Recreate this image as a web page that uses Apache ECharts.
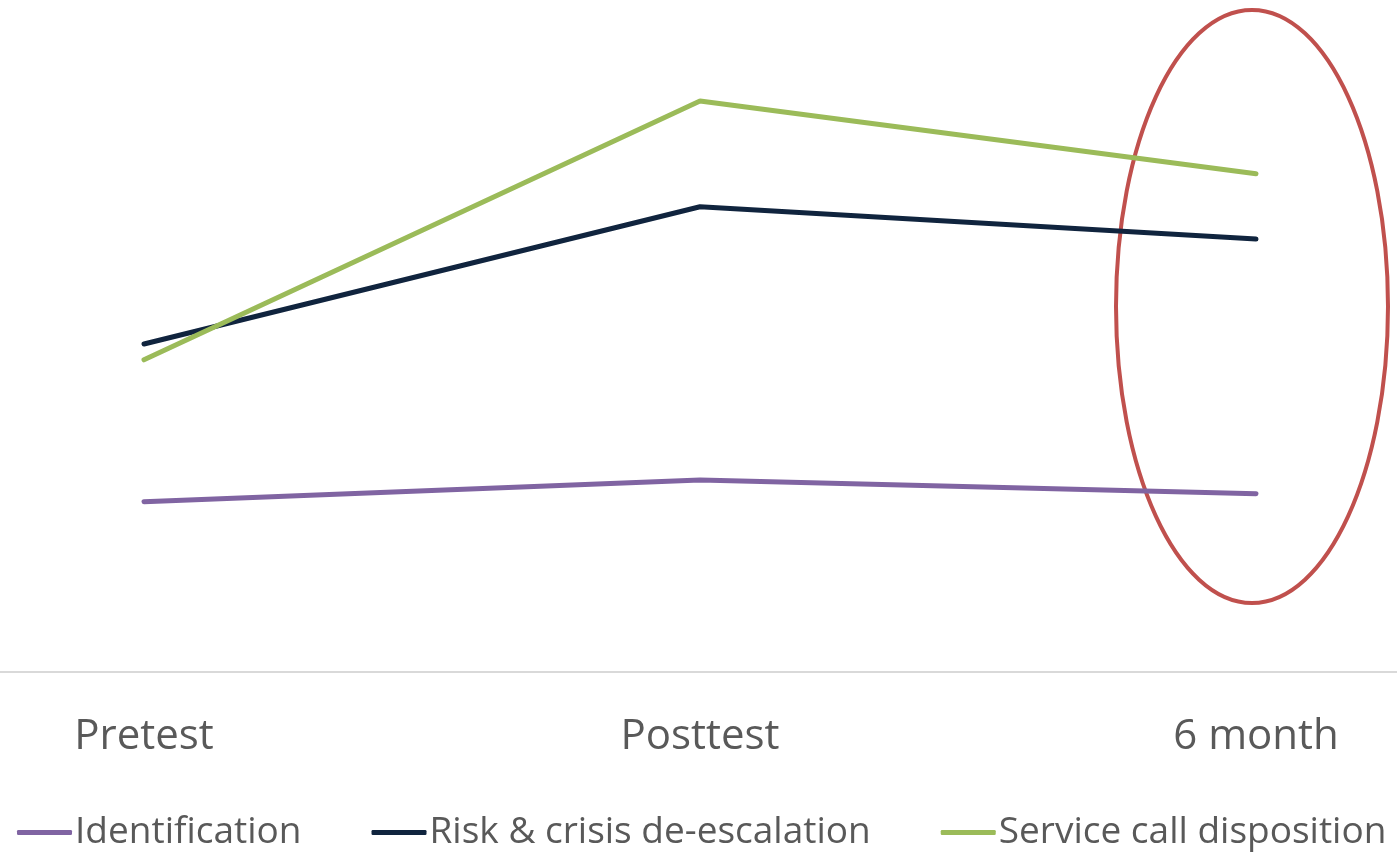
<!DOCTYPE html>
<html><head><meta charset="utf-8">
<script src="https://cdn.jsdelivr.net/npm/echarts@6/dist/echarts.min.js"></script>
<style>html,body{margin:0;padding:0;background:#fff}#c{width:1397px;height:852px}</style>
</head><body><div id="c"></div>
<script>
const categories = ['Pretest', 'Posttest', '6 month'];
const identification = [25.8, 29.1, 27.0];
const riskCrisis = [49.7, 70.5, 65.6];
const serviceCall = [47.3, 86.5, 75.5];
const seriesNames = ['Identification', 'Risk & crisis de-escalation', 'Service call disposition'];

const chart = echarts.init(document.getElementById('c'));
const font = '"Open Sans", sans-serif';
const mk = (name, data, color) => ({
  name, type: 'line', data, showSymbol: false, symbol: 'none',
  lineStyle: { color, width: 5, cap: 'round' }, itemStyle: { color }
});
chart.setOption({
  animation: false,
  grid: { left: 144, right: 141, top: 12, bottom: 180 },
  xAxis: {
    type: 'category', data: categories, boundaryGap: false,
    axisLine: { show: false },
    axisTick: { show: false },
    axisLabel: { color: '#595959', fontSize: 42, fontFamily: font, margin: 44 }
  },
  yAxis: { type: 'value', min: 0, max: 100, show: false, splitLine: { show: false } },
  legend: {
    bottom: -4, left: 12, itemWidth: 55, itemHeight: 5, itemGap: 70, icon: 'roundRect',
    textStyle: { color: '#595959', fontSize: 37, fontFamily: font, padding: [0, 0, 0, -2] },
    data: seriesNames
  },
  series: [
    mk(seriesNames[0], identification, '#8064a2'),
    mk(seriesNames[1], riskCrisis, '#10243e'),
    mk(seriesNames[2], serviceCall, '#9bbb59')
  ]
});
const p = chart.convertToPixel({ xAxisIndex: 0, yAxisIndex: 0 }, ['6 month', 0]);
chart.setOption({
  graphic: [{
    type: 'line', z: 0,
    shape: { x1: 0, y1: p[1], x2: 1397, y2: p[1] },
    style: { stroke: '#d9d9d9', lineWidth: 2 }
  }, {
    type: 'ellipse',
    shape: { cx: p[0] - 4, cy: 306.5, rx: 136, ry: 296.5 },
    style: { fill: 'none', stroke: '#c0504d', lineWidth: 4 }
  }]
});
</script></body></html>
